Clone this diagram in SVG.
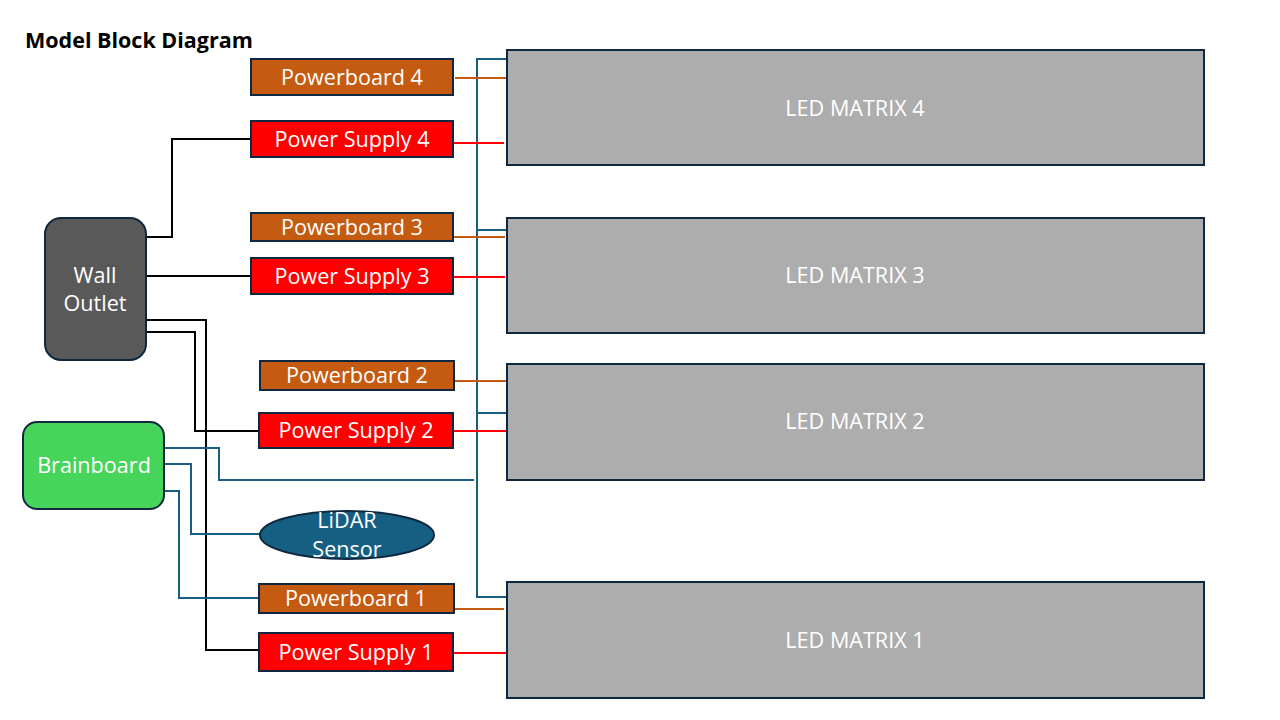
<svg xmlns="http://www.w3.org/2000/svg" width="1280" height="720" viewBox="0 0 1280 720">
<style>
.t{font-family:"Open Sans","Liberation Sans",sans-serif;font-size:21.6px;fill:#fff;text-anchor:middle;dominant-baseline:central}
.box{stroke:#0E2841;stroke-width:2}
.pb{fill:#C55A11}
.ps{fill:#FF0000}
.led{fill:#ADADAD}
.blk{fill:none;stroke:#000;stroke-width:2}
.bl{fill:none;stroke:#156082;stroke-width:2}
.br{fill:none;stroke:#C55A11;stroke-width:2}
.rd{fill:none;stroke:#FF0000;stroke-width:2}
</style>
<rect width="1280" height="720" fill="#fff"/>
<text x="25" y="48" font-family="Open Sans, Liberation Sans, sans-serif" font-size="21.5" font-weight="bold" fill="#000">Model Block Diagram</text>
<g id="connectors">
<polyline class="blk" points="146,237 172,237 172,139 251,139"/>
<polyline class="blk" points="146,276 251,276"/>
<polyline class="blk" points="146,320 206,320 206,650 259,650"/>
<polyline class="blk" points="146,332 195,332 195,431 259,431"/>
<polyline class="bl" points="165,448 219,448 219,480 474,480"/>
<polyline class="bl" points="165,464 191,464 191,534 260,534"/>
<polyline class="bl" points="165,491 179,491 179,598 259,598"/>
<polyline class="bl" points="507,59 477,59 477,597 507,597"/>
<line class="bl" x1="477" y1="230" x2="507" y2="230"/>
<line class="bl" x1="477" y1="413" x2="507" y2="413"/>
<line class="br" x1="455" y1="78" x2="507" y2="78"/>
<line class="br" x1="453" y1="237" x2="505" y2="237"/>
<line class="br" x1="455" y1="381" x2="507" y2="381"/>
<line class="br" x1="453" y1="609" x2="504" y2="609"/>
<line class="rd" x1="453" y1="143" x2="504" y2="143"/>
<line class="rd" x1="453" y1="277" x2="505" y2="277"/>
<line class="rd" x1="453" y1="431" x2="506" y2="431"/>
<line class="rd" x1="453" y1="653" x2="506" y2="653"/>
</g>
<g id="wall-outlet"><rect class="box" x="45" y="218" width="101" height="142" rx="16" fill="#595959"/><text class="t" x="95" y="274">Wall</text><text class="t" x="95" y="302">Outlet</text></g>
<g id="brainboard"><rect class="box" x="23" y="422" width="141" height="87" rx="14" fill="#47D45A"/><text class="t" x="94" y="464">Brainboard</text></g>
<g id="lidar"><ellipse class="box" cx="347" cy="535" rx="87" ry="24" fill="#156082"/><text class="t" x="347" y="519">LiDAR</text><text class="t" x="347" y="548">Sensor</text></g>
<g id="pb4"><rect class="box pb" x="251" y="59" width="202" height="36"/><text class="t" x="352" y="76">Powerboard 4</text></g>
<g id="ps4"><rect class="box ps" x="251" y="121" width="202" height="36"/><text class="t" x="352" y="138">Power Supply 4</text></g>
<g id="pb3"><rect class="box pb" x="251" y="213" width="202" height="28"/><text class="t" x="352" y="226">Powerboard 3</text></g>
<g id="ps3"><rect class="box ps" x="251" y="258" width="202" height="36"/><text class="t" x="352" y="275">Power Supply 3</text></g>
<g id="pb2"><rect class="box pb" x="260" y="361" width="194" height="29"/><text class="t" x="357" y="374">Powerboard 2</text></g>
<g id="ps2"><rect class="box ps" x="259" y="413" width="194" height="35"/><text class="t" x="356" y="429">Power Supply 2</text></g>
<g id="pb1"><rect class="box pb" x="259" y="584" width="195" height="29"/><text class="t" x="356" y="597">Powerboard 1</text></g>
<g id="ps1"><rect class="box ps" x="259" y="633" width="194" height="38"/><text class="t" x="356" y="651">Power Supply 1</text></g>
<g id="led4"><rect class="box led" x="507" y="50" width="697" height="115"/><text class="t" x="855" y="107">LED MATRIX 4</text></g>
<g id="led3"><rect class="box led" x="507" y="218" width="697" height="115"/><text class="t" x="855" y="274">LED MATRIX 3</text></g>
<g id="led2"><rect class="box led" x="507" y="364" width="697" height="116"/><text class="t" x="855" y="420">LED MATRIX 2</text></g>
<g id="led1"><rect class="box led" x="507" y="582" width="697" height="116"/><text class="t" x="855" y="639">LED MATRIX 1</text></g>
</svg>
